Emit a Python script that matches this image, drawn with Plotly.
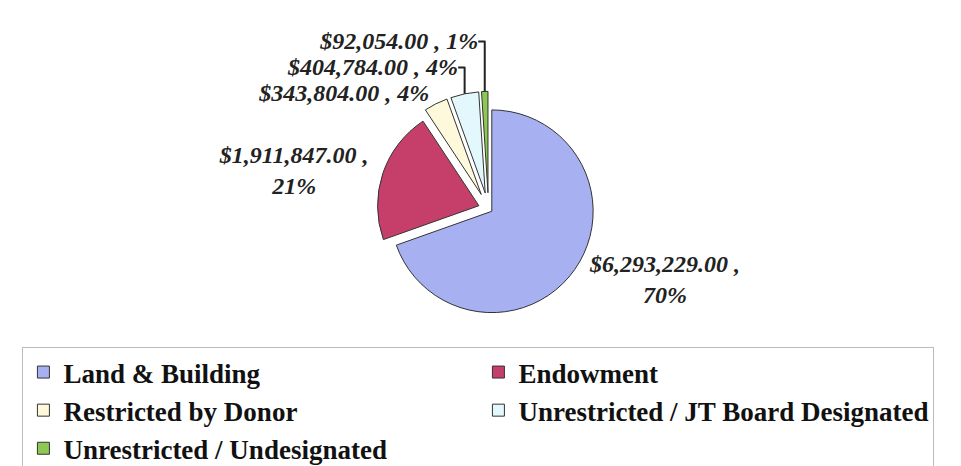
import plotly.graph_objects as go

categories = ["Land & Building", "Endowment", "Restricted by Donor",
              "Unrestricted / JT Board Designated", "Unrestricted / Undesignated"]
values = [6293229.00, 1911847.00, 343804.00, 404784.00, 92054.00]
colors = ["#A7B1F2", "#C63F6B", "#FFF9DC", "#E2F8FC", "#8DC853"]
pulls = [0.04, 0.10, 0.16, 0.16, 0.16]

total = sum(values)
label_text = []
for v in values:
    pct = round(v / total * 100)
    money = f"${v:,.2f}"
    if v > 1_000_000:
        label_text.append(f"{money} ,<br>{pct}%")
    else:
        label_text.append(f"{money} , {pct}%")

fig = go.Figure(go.Pie(
    labels=categories,
    values=values,
    text=label_text,
    texttemplate="%{text}",
    textposition="outside",
    textfont=dict(family="Liberation Serif", size=24, color="#222222",
                  style="italic", weight="bold"),
    sort=False,
    direction="clockwise",
    rotation=0,
    pull=pulls,
    marker=dict(colors=colors, line=dict(color="#333333", width=1)),
    domain=dict(x=[0.1, 0.9], y=[0.32, 0.83]),
    hoverinfo="label+value+percent",
))

fig.update_layout(
    width=961, height=466,
    margin=dict(l=0, r=0, t=5, b=0, autoexpand=False),
    paper_bgcolor="white",
    plot_bgcolor="white",
    showlegend=True,
    legend=dict(
        orientation="h",
        x=0.015, xanchor="left",
        y=0.0, yanchor="bottom",
        entrywidth=410, entrywidthmode="pixels",
        font=dict(family="Liberation Serif", size=27, color="#111111", weight="bold"),
        bordercolor="#BBBBBB", borderwidth=1,
        bgcolor="white",
        traceorder="normal",
    ),
)

fig.write_html("out.html")
